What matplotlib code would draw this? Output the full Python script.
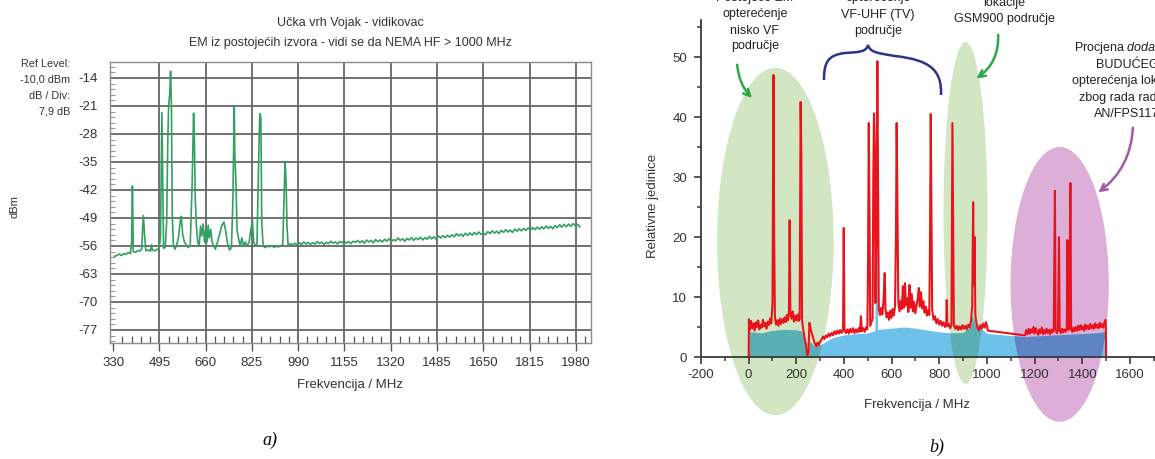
import matplotlib
matplotlib.use("Agg")
import matplotlib.pyplot as plt
from matplotlib.patches import Ellipse, FancyArrowPatch, PathPatch
from matplotlib.path import Path
from matplotlib.ticker import MultipleLocator, FixedLocator

plt.rcParams["font.family"] = ["Liberation Sans", "DejaVu Sans"]
plt.rcParams["axes.unicode_minus"] = False
plt.rcParams["mathtext.fontset"] = "custom"
plt.rcParams["mathtext.rm"] = "Liberation Sans"
plt.rcParams["mathtext.it"] = "Liberation Sans:italic"

# ---- panel a) : spectrum analyser trace (MHz, dBm)
left_xticks = [330, 495, 660, 825, 990, 1155, 1320, 1485, 1650, 1815, 1980]
left_yticks = [-14, -21, -28, -35, -42, -49, -56, -63, -70, -77]
left_trace = [
    (335, -58.6), (345, -58.3), (352, -58.0), (360, -58.4), (368, -57.9), (376, -58.1),
    (384, -57.6), (392, -57.9), (396, -55), (399, -41), (402, -57.4), (410, -57.6),
    (418, -57.1), (426, -57.3), (432, -56.6), (435, -52), (438, -48.4), (442, -53),
    (447, -57.2), (455, -57.0), (463, -57.3), (467, -55.7), (470, -57.0), (478, -57.2),
    (486, -56.9), (494, -56.6), (499, -54), (504, -22.6), (507, -40), (510, -56.6),
    (516, -56.3), (521, -50), (525, -30), (528, -21), (532, -18), (535, -12.3),
    (538, -21), (541, -48), (545, -56), (551, -56.8), (557, -55.6), (563, -54),
    (569, -50), (573, -48.6), (578, -53), (584, -55), (590, -55.6), (597, -56.4),
    (605, -56), (612, -40), (617, -22.8), (620, -30), (623, -44), (627, -51),
    (632, -55), (637, -56), (642, -51), (646, -53.5), (651, -50.5), (656, -55),
    (661, -51.5), (665, -55), (669, -50.8), (673, -54), (678, -51.8), (683, -55),
    (689, -56), (695, -56.8), (702, -55), (710, -53), (717, -51), (725, -50),
    (731, -52), (737, -55), (745, -57), (752, -56.4), (757, -45), (762, -21.2),
    (764, -33.3), (768, -40), (772, -52), (777, -54), (783, -56), (789, -54),
    (795, -56), (801, -55), (808, -56), (815, -55), (821, -52), (827, -49.6),
    (831, -55), (837, -56), (843, -55.4), (849, -35), (853, -22.9), (857, -24),
    (860, -50), (865, -56), (872, -56.4), (880, -56), (888, -56.2), (896, -55.9),
    (904, -56.3), (912, -56.1), (920, -56.2), (928, -56.0), (935, -55.6), (939, -45),
    (943, -35.2), (945, -37), (947, -40.3), (950, -51), (954, -55.8),
    (962, -55.4), (970, -55.8), (978, -55.3), (986, -55.7), (994, -55.2), (1002, -55.6),
    (1010, -55.0), (1018, -55.5), (1026, -55.1), (1034, -55.6), (1042, -55.2), (1050, -55.5),
    (1058, -54.9), (1066, -55.4), (1074, -55.0), (1082, -55.6), (1090, -55.1), (1098, -55.4),
    (1106, -54.8), (1114, -55.3), (1122, -55.0), (1130, -55.5), (1138, -54.9), (1146, -55.2),
    (1154, -54.7), (1162, -55.3), (1170, -54.9), (1178, -55.4), (1186, -54.8), (1194, -55.1),
    (1202, -54.6), (1210, -55.2), (1218, -54.7), (1226, -55.3), (1234, -54.5), (1242, -55.0),
    (1250, -54.6), (1258, -55.2), (1266, -54.4), (1274, -54.9), (1282, -54.5), (1290, -55.0),
    (1298, -54.3), (1306, -54.8), (1314, -54.2), (1322, -54.9), (1330, -54.4), (1338, -54.7),
    (1346, -54.0), (1354, -54.6), (1362, -54.2), (1370, -54.8), (1378, -54.1), (1386, -54.5),
    (1394, -53.9), (1402, -54.6), (1410, -54.0), (1418, -54.4), (1426, -53.8), (1434, -54.5),
    (1442, -53.9), (1450, -54.3), (1458, -53.6), (1466, -54.2), (1474, -53.7), (1482, -54.3),
    (1490, -53.5), (1498, -54.0), (1506, -53.4), (1514, -53.9), (1522, -53.3), (1530, -53.8),
    (1538, -53.2), (1546, -53.7), (1554, -52.9), (1562, -53.5), (1570, -53.0), (1578, -53.6),
    (1586, -52.8), (1594, -53.4), (1602, -52.7), (1610, -53.3), (1618, -52.6), (1626, -53.2),
    (1634, -52.5), (1642, -53.1), (1650, -52.7), (1658, -53.2), (1666, -52.4), (1674, -52.9),
    (1682, -52.2), (1690, -52.8), (1698, -52.3), (1706, -52.9), (1714, -52.1), (1722, -52.6),
    (1730, -51.9), (1738, -52.5), (1746, -52.0), (1754, -52.6), (1762, -51.8), (1770, -52.3),
    (1778, -51.7), (1786, -52.2), (1794, -51.6), (1802, -52.1), (1810, -51.5), (1818, -52.0),
    (1826, -51.4), (1834, -51.9), (1842, -51.3), (1850, -51.8), (1858, -51.2), (1866, -51.7),
    (1874, -51.0), (1882, -51.6), (1890, -51.1), (1898, -51.7), (1906, -50.9), (1914, -51.4),
    (1922, -50.7), (1930, -51.3), (1938, -50.6), (1946, -51.2), (1954, -50.5), (1962, -51.1),
    (1970, -50.4), (1978, -50.9), (1986, -50.6), (1994, -51.2),
]

# ---- panel b) : relative units vs MHz
right_xticks = list(range(-200, 1601, 200))
right_yticks = [0, 10, 20, 30, 40, 50]
red_trace = [
    (0, 0), (1, 6.3), (5, 4.5), (10, 6.0), (15, 4.8), (20, 5.6), (25, 4.4), (30, 5.8),
    (35, 5.0), (40, 6.1), (45, 4.6), (50, 5.4), (55, 4.9), (60, 6.2), (65, 5.1), (70, 5.7),
    (75, 4.7), (80, 5.9), (85, 5.3), (90, 6.4), (95, 5.6), (100, 9.0), (104, 47.0), (107, 20),
    (110, 6.8), (115, 5.4), (120, 6.1), (125, 5.2), (130, 6.4), (135, 5.5), (140, 6.3),
    (145, 5.7), (150, 6.6), (155, 5.8), (160, 7.0), (165, 6.1), (169, 7.5), (172, 22.8),
    (175, 7.2), (180, 6.4), (185, 7.6), (190, 5.9), (195, 6.9), (200, 6.1), (205, 7.1),
    (210, 6.0), (214, 6.4), (218, 42.5), (221, 33.7), (224, 6.2), (228, 4.8), (232, 3.9),
    (236, 2.8), (240, 2.2), (244, 0.8), (247, 0.3), (251, 1.0), (255, 5.7), (259, 4.9),
    (264, 4.1), (269, 3.4), (274, 2.7), (279, 2.1), (284, 1.8), (289, 2.4), (294, 2.0),
    (300, 2.6), (306, 2.9), (312, 3.4), (318, 3.0), (324, 3.6), (330, 3.3), (336, 3.9),
    (342, 3.5), (348, 4.0), (354, 3.6), (360, 4.3), (366, 3.8), (372, 4.4), (378, 3.9),
    (384, 4.5), (390, 4.0), (396, 4.6), (399, 21.5), (402, 4.4), (408, 4.0), (414, 4.6),
    (420, 3.9), (426, 4.7), (432, 4.1), (438, 4.8), (444, 4.0), (450, 4.6), (456, 4.1),
    (462, 4.8), (467, 4.2), (471, 6.8), (475, 4.3), (481, 4.8), (487, 4.2), (493, 5.0),
    (498, 4.6), (501, 16), (504, 39.0), (507, 24), (510, 5.2), (515, 5.8), (520, 6.4),
    (523, 30), (526, 40.6), (529, 35), (532, 9), (536, 20), (540, 49.3), (543, 30), (546, 8),
    (551, 7.0), (556, 8.2), (561, 7.1), (566, 9.5), (571, 14.0), (574, 8.0), (579, 6.6),
    (584, 7.4), (589, 6.2), (594, 7.7), (599, 6.5), (604, 8.0), (609, 6.9), (614, 8.4),
    (618, 20), (621, 39.0), (624, 26), (628, 9.0), (633, 7.6), (638, 9.4), (643, 8.0),
    (647, 11.8), (651, 8.2), (656, 12.3), (660, 8.6), (665, 9.8), (670, 7.5), (675, 12.0),
    (679, 8.2), (684, 10.5), (689, 7.6), (694, 9.2), (699, 7.3), (704, 8.5), (709, 9.6),
    (714, 11.5), (718, 8.4), (723, 10.8), (728, 8.1), (733, 9.3), (738, 7.4), (743, 8.4),
    (748, 6.9), (753, 7.8), (758, 7.0), (761, 19.5), (764, 40.5), (767, 25), (770, 7.8),
    (776, 6.2), (782, 6.8), (788, 5.6), (794, 6.3), (800, 5.4), (806, 6.0), (812, 5.2),
    (818, 5.8), (824, 5.0), (829, 5.6), (831, 9.5), (834, 5.1), (840, 5.5), (846, 4.8),
    (851, 5.4), (855, 39.0), (858, 22), (861, 5.3), (867, 4.7), (873, 5.2), (879, 4.5),
    (885, 5.1), (891, 4.6), (897, 5.3), (903, 4.7), (909, 5.2), (915, 4.6), (921, 5.4),
    (927, 4.9), (933, 6.0), (938, 8.5), (942, 25.8), (945, 12), (948, 20.0), (951, 7.0),
    (955, 5.8), (960, 5.0), (966, 4.4), (972, 5.3), (978, 4.7), (984, 5.6), (990, 4.9),
    (996, 5.8), (1000, 5.2), (1003, 4.4), (1160, 3.6), (1165, 4.5), (1170, 3.8), (1175, 4.7),
    (1180, 3.9), (1185, 4.6), (1190, 4.1), (1195, 5.0), (1200, 3.9), (1205, 4.8), (1210, 4.2),
    (1215, 3.7), (1220, 4.6), (1225, 4.0), (1230, 4.9), (1235, 3.8), (1240, 4.5), (1245, 3.9),
    (1250, 4.7), (1255, 4.0), (1260, 4.5), (1265, 3.8), (1270, 4.6), (1275, 4.1), (1280, 4.4),
    (1285, 27.7), (1288, 4.6), (1293, 4.0), (1298, 4.6), (1302, 20.0), (1305, 4.4),
    (1310, 4.0), (1315, 4.7), (1320, 4.1), (1325, 4.6), (1330, 4.2), (1335, 4.8),
    (1338, 19.5), (1341, 4.5), (1346, 4.8), (1350, 29.0), (1353, 4.6), (1358, 4.2),
    (1363, 4.9), (1368, 4.3), (1373, 5.0), (1378, 4.4), (1383, 5.2), (1388, 4.5), (1393, 5.3),
    (1398, 4.6), (1403, 5.1), (1408, 4.4), (1413, 5.4), (1418, 4.7), (1423, 5.2), (1428, 4.6),
    (1433, 5.5), (1438, 4.8), (1443, 5.3), (1448, 4.7), (1453, 5.6), (1458, 4.9), (1463, 5.4),
    (1468, 4.8), (1473, 5.7), (1478, 5.0), (1483, 5.5), (1488, 4.9), (1493, 5.8), (1497, 6.2),
    (1499, 5.0), (1500, 0),
]
blue_fill = [
    (0, 0), (1, 4.2), (50, 4.0), (100, 4.4), (150, 4.6), (200, 4.5), (222, 4.3), (232, 2.8),
    (248, 0.0), (256, 2.6), (275, 1.8), (300, 2.0), (350, 3.2), (400, 3.7), (450, 3.9),
    (500, 4.0), (530, 4.4), (533, 32.0), (538, 32.0), (541, 4.6), (600, 4.8), (650, 5.0),
    (700, 4.8), (750, 4.5), (800, 4.2), (850, 4.0), (900, 4.1), (930, 5.0), (938, 7.0),
    (950, 5.5), (1003, 3.9), (1160, 3.4), (1250, 3.6), (1350, 3.8), (1450, 4.0),
    (1499, 4.2), (1500, 0),
]
# highlighted zones: centre MHz, centre value, width MHz, height, colour
zones = [
    (112, 19.25, 489, 57.9, "#d3e6c3"),
    (910, 24.0, 185, 57.0, "#d3e6c3"),
    (1305, 12.1, 412, 45.8, "#dcaed8"),
]

W, H = 1155, 459


def fx(x):
    return x / W


def fy(y):
    return 1 - y / H


def multiply(c1, c2):
    a = matplotlib.colors.to_rgb(c1)
    b = matplotlib.colors.to_rgb(c2)
    return tuple(p * q for p, q in zip(a, b))


fig = plt.figure(figsize=(W / 100, H / 100), dpi=100)

# ================= a)
ax1 = fig.add_axes([fx(110), fy(343), (591 - 110) / W, (343 - 62) / H])
grid_c = "#666666"
for v in left_xticks[1:]:
    ax1.axvline(v, color=grid_c, lw=1.3, zorder=1)
for v in left_yticks:
    ax1.axhline(v, color=grid_c, lw=1.3, zorder=1)
lf = [p[0] for p in left_trace]
lv = [p[1] for p in left_trace]
ax1.plot(lf, lv, color="#32a062", lw=1.2, zorder=3)
ax1.set_xlim(319, 2034)
ax1.set_ylim(-80.25, -10)
ax1.set_xticks(left_xticks)
ax1.set_yticks(left_yticks)
ax1.xaxis.set_minor_locator(MultipleLocator(33))
ax1.yaxis.set_minor_locator(MultipleLocator(1.4))
ax1.tick_params(axis="x", which="major", direction="out", length=6, width=1,
                color="#555555", pad=4, labelsize=9.5, labelcolor="#333333")
ax1.tick_params(axis="x", which="minor", direction="in", length=5, width=0.9, color="#555555")
ax1.tick_params(axis="y", which="major", length=0, pad=9, labelsize=9.5, labelcolor="#333333")
ax1.tick_params(axis="y", which="minor", direction="in", length=3.5, width=0.8, color="#999999")
for s in ax1.spines.values():
    s.set_color("#8c8c8c")
    s.set_linewidth(1)

fig.text(fx(350), fy(23), "Učka vrh Vojak - vidikovac", ha="center", va="center",
         fontsize=9, color="#333333")
fig.text(fx(350), fy(43), "EM iz postojećih izvora - vidi se da NEMA HF > 1000 MHz",
         ha="center", va="center", fontsize=9, color="#333333")
for txt, y in [("Ref Level:", 64), ("-10,0 dBm", 79.5), ("dB / Div:", 96), ("7,9 dB", 112)]:
    fig.text(fx(70), fy(y), txt, ha="right", va="center", fontsize=7.8, color="#333333")
fig.text(fx(15), fy(207), "dBm", rotation=90, ha="center", va="center", fontsize=8,
         color="#333333")
fig.text(fx(350), fy(385), "Frekvencija / MHz", ha="center", va="center", fontsize=9.5,
         color="#333333")
fig.text(fx(270), fy(440), "a)", ha="center", va="center", fontsize=13,
         family="Liberation Serif", style="italic")

# ================= b)
ax2 = fig.add_axes([fx(701), 0, (W - 701) / W, 1])
ax2.patch.set_visible(False)
ax2.set_xlim(-200, 1705)
ax2.set_ylim(-17, 59.5)

bf = [p[0] for p in blue_fill]
bv = [p[1] for p in blue_fill]
rf = [p[0] for p in red_trace]
rv = [p[1] for p in red_trace]
blue_c = "#6ec1e8"

ax2.fill_between(bf, 0, bv, color=blue_c, lw=0, zorder=2)
for cx, cy, w, h, col in zones:
    ell = Ellipse((cx, cy), w, h, facecolor=col, edgecolor="none", zorder=1)
    ax2.add_patch(ell)
    dark = ax2.fill_between(bf, 0, bv, color=multiply(col, blue_c), lw=0, zorder=3)
    dark.set_clip_path(ell)
ax2.plot(rf, rv, color="#e8141c", lw=1.5, zorder=4)

for k in ["top", "right"]:
    ax2.spines[k].set_visible(False)
ax2.spines["bottom"].set_position(("data", 0))
ax2.spines["left"].set_bounds(0, 56.2)
for k in ["bottom", "left"]:
    ax2.spines[k].set_color("#3a3a3a")
    ax2.spines[k].set_linewidth(1.3)
    ax2.spines[k].set_zorder(5)
ax2.set_xticks(right_xticks)
ax2.set_yticks(right_yticks)
ax2.xaxis.set_minor_locator(MultipleLocator(100))
ax2.yaxis.set_minor_locator(FixedLocator([5, 15, 25, 35, 45, 55]))
ax2.tick_params(which="major", direction="out", length=5, width=1.2, color="#3a3a3a",
                labelsize=9.5, labelcolor="#333333")
ax2.tick_params(axis="x", which="major", pad=4)
ax2.tick_params(axis="y", which="major", pad=5)
ax2.tick_params(which="minor", direction="out", length=3, width=1.1, color="#3a3a3a")

fig.text(fx(917), fy(405), "Frekvencija / MHz", ha="center", va="center", fontsize=9.5,
         color="#333333")
fig.text(fx(653), fy(206), "Relativne jedinice", rotation=90, ha="center", va="center",
         fontsize=9.5, color="#333333")
fig.text(fx(937), fy(447), "b)", ha="center", va="center", fontsize=13,
         family="Liberation Serif", style="italic")

notes = [
    (755, [(-2, "Postojeće EM"), (14, "opterećenje"), (30.5, "nisko VF"), (46, "područje")]),
    (878, [(-2, "opterećenje"), (15, "VF-UHF (TV)"), (31, "područje")]),
    (1004, [(3, "lokacije"), (19, "GSM900 područje")]),
    (1127, [(48, r"Procjena $\it{dodatnog}$"), (64.5, "BUDUĆEG"),
            (81, "opterećenja lokacije"), (97.5, "zbog rada radara"), (114, "AN/FPS117")]),
]
for x, lines in notes:
    for y, txt in lines:
        fig.text(fx(x), fy(y), txt, ha="center", va="center", fontsize=9, color="#222222")

arrows = [
    ((737, 62), (754, 100), 0.2, "#2fa84a"),
    ((998, 32), (974, 80), -0.3, "#2fa84a"),
    ((1133, 125), (1096, 194), -0.25, "#a05aa8"),
]
for (x0, y0), (x1, y1), rad, col in arrows:
    fig.patches.append(FancyArrowPatch((fx(x0), fy(y0)), (fx(x1), fy(y1)),
                                       transform=fig.transFigure,
                                       connectionstyle=f"arc3,rad={rad}",
                                       arrowstyle="->", mutation_scale=12, lw=1.8,
                                       color=col))

brace_pts = [(824, 80), (824, 62), (828, 55), (845, 53),
             (860, 52), (866, 52), (868, 45),
             (870, 52), (876, 53), (895, 56),
             (930, 60), (942, 70), (941, 95)]
codes = [Path.MOVETO] + [Path.CURVE4] * 12
brace = Path([(fx(x), fy(y)) for x, y in brace_pts], codes)
fig.patches.append(PathPatch(brace, transform=fig.transFigure, facecolor="none",
                             edgecolor="#2b3589", lw=1.8))

fig.savefig("out.png", dpi=100)
